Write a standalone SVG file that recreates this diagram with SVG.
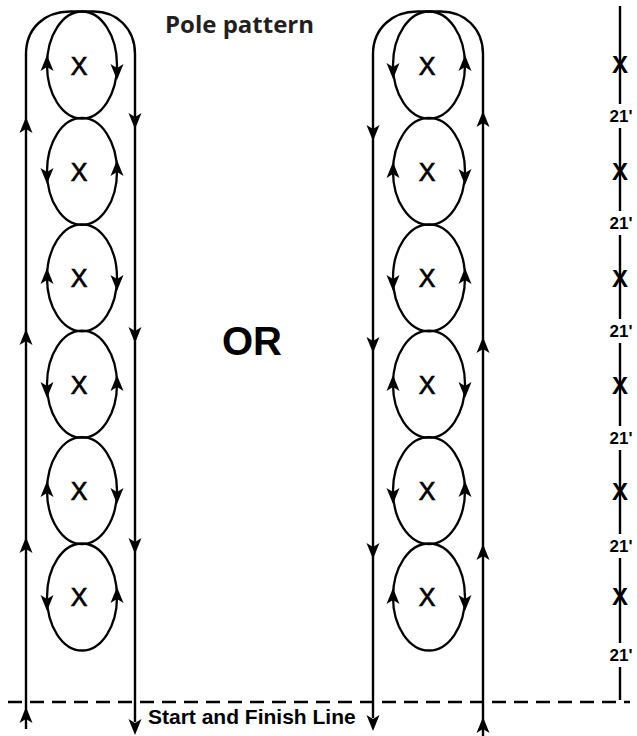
<svg xmlns="http://www.w3.org/2000/svg" xmlns:xlink="http://www.w3.org/1999/xlink" width="637" height="736" viewBox="0 0 637 736">
<style>
.ln{fill:none;stroke:#000;stroke-width:2.4}
.el{fill:none;stroke:#000;stroke-width:2.3}
.px{font-family:"Liberation Sans",Arial,sans-serif;font-size:25px;fill:#000;stroke:#000;stroke-width:0.7;text-anchor:middle}
.sx{font-family:"Liberation Sans",Arial,sans-serif;font-size:24px;font-weight:bold;fill:#000;text-anchor:middle}
.dl{font-family:"Liberation Sans",Arial,sans-serif;font-size:17px;font-weight:bold;fill:#000;text-anchor:middle}
.dash{fill:none;stroke:#000;stroke-width:2.5;stroke-dasharray:14 8}
</style>
<defs>
<path id="up" d="M0,0 L6.5,16 L0,12 L-6.5,16 Z" fill="#000"/>
<path id="dn" d="M0,0 L6.5,-16 L0,-12 L-6.5,-16 Z" fill="#000"/>
</defs>

<text x="165" y="33" font-family="'Open Sans',sans-serif" font-size="24" font-weight="bold" fill="#231f20">Pole pattern</text>
<text x="222" y="355" font-family="'Liberation Sans',Arial,sans-serif" font-size="40" font-weight="bold" fill="#000">OR</text>

<g id="poles-left">
<g id="pole-L1"><ellipse class="el" cx="82" cy="65" rx="35" ry="53.5"/><text class="px" x="79" y="75">X</text></g>
<g id="pole-L2"><ellipse class="el" cx="82" cy="171.4" rx="35" ry="53.5"/><text class="px" x="79" y="181">X</text></g>
<g id="pole-L3"><ellipse class="el" cx="82" cy="277.8" rx="35" ry="53.5"/><text class="px" x="79" y="287">X</text></g>
<g id="pole-L4"><ellipse class="el" cx="82" cy="384.2" rx="35" ry="53.5"/><text class="px" x="79" y="394">X</text></g>
<g id="pole-L5"><ellipse class="el" cx="82" cy="490.6" rx="35" ry="53.5"/><text class="px" x="79" y="500">X</text></g>
<g id="pole-L6"><ellipse class="el" cx="82" cy="597" rx="35" ry="53.5"/><text class="px" x="79" y="606">X</text></g>
</g>

<g id="poles-right">
<g id="pole-R1"><ellipse class="el" cx="429" cy="65" rx="36" ry="53.5"/><text class="px" x="427" y="75">X</text></g>
<g id="pole-R2"><ellipse class="el" cx="429" cy="171.4" rx="36" ry="53.5"/><text class="px" x="427" y="181">X</text></g>
<g id="pole-R3"><ellipse class="el" cx="429" cy="277.8" rx="36" ry="53.5"/><text class="px" x="427" y="287">X</text></g>
<g id="pole-R4"><ellipse class="el" cx="429" cy="384.2" rx="36" ry="53.5"/><text class="px" x="427" y="394">X</text></g>
<g id="pole-R5"><ellipse class="el" cx="429" cy="490.6" rx="36" ry="53.5"/><text class="px" x="427" y="500">X</text></g>
<g id="pole-R6"><ellipse class="el" cx="429" cy="597" rx="36" ry="53.5"/><text class="px" x="427" y="606">X</text></g>
</g>

<g id="connectors">
<path class="ln" d="M26,729 V54 C26,28 45,11.5 70,11.5 H82"/>
<path class="ln" d="M135,722 V54 C135,28 116,11.5 94,11.5 H82"/>
<path class="ln" d="M373,718 V54 C373,28 393,11.5 417,11.5 H429"/>
<path class="ln" d="M483,736 V54 C483,28 464,11.5 441,11.5 H429"/>
<!-- left pattern outer arrows -->
<use xlink:href="#up" x="26" y="117"/><use xlink:href="#up" x="26" y="329"/><use xlink:href="#up" x="26" y="537"/><use xlink:href="#up" x="26" y="707"/>
<use xlink:href="#dn" x="135" y="129"/><use xlink:href="#dn" x="135" y="343"/><use xlink:href="#dn" x="135" y="554"/><use xlink:href="#dn" x="135" y="735"/>
<!-- right pattern outer arrows -->
<use xlink:href="#dn" x="373" y="141"/><use xlink:href="#dn" x="373" y="353"/><use xlink:href="#dn" x="373" y="559"/><use xlink:href="#dn" x="373" y="731"/>
<use xlink:href="#up" x="483" y="111"/><use xlink:href="#up" x="483" y="337"/><use xlink:href="#up" x="483" y="544"/><use xlink:href="#up" x="483" y="717"/>
<!-- left ellipse arrows -->
<use xlink:href="#up" x="47" y="55"/><use xlink:href="#dn" x="117" y="80"/>
<use xlink:href="#dn" x="47" y="184"/><use xlink:href="#up" x="117" y="160"/>
<use xlink:href="#up" x="47" y="268"/><use xlink:href="#dn" x="117" y="291"/>
<use xlink:href="#dn" x="47" y="398"/><use xlink:href="#up" x="117" y="375"/>
<use xlink:href="#up" x="47" y="481"/><use xlink:href="#dn" x="117" y="504"/>
<use xlink:href="#dn" x="47" y="611"/><use xlink:href="#up" x="117" y="587"/>
<!-- right ellipse arrows -->
<use xlink:href="#dn" x="393" y="79"/><use xlink:href="#up" x="465" y="55"/>
<use xlink:href="#up" x="393" y="162"/><use xlink:href="#dn" x="465" y="185"/>
<use xlink:href="#dn" x="393" y="291"/><use xlink:href="#up" x="465" y="268"/>
<use xlink:href="#up" x="393" y="375"/><use xlink:href="#dn" x="465" y="398"/>
<use xlink:href="#dn" x="393" y="504"/><use xlink:href="#up" x="465" y="481"/>
<use xlink:href="#up" x="393" y="588"/><use xlink:href="#dn" x="465" y="611"/>
</g>

<g id="start-finish">
<line class="dash" x1="8" y1="702" x2="630" y2="702"/>
<text x="148" y="724" font-family="'Liberation Sans',Arial,sans-serif" font-size="21" font-weight="bold" fill="#000">Start and Finish Line</text>
</g>

<g id="scale">
<path class="ln" d="M620,6 V104 M620,128 V211 M620,235 V319 M620,343 V426 M620,450 V534 M620,558 V643 M620,667 V700"/>
<text class="sx" x="620" y="73">X</text>
<text class="sx" x="620" y="180">X</text>
<text class="sx" x="620" y="287">X</text>
<text class="sx" x="620" y="394">X</text>
<text class="sx" x="620" y="500">X</text>
<text class="sx" x="620" y="605">X</text>
<text class="dl" x="621" y="122">21'</text>
<text class="dl" x="621" y="229">21'</text>
<text class="dl" x="621" y="337">21'</text>
<text class="dl" x="621" y="444">21'</text>
<text class="dl" x="621" y="552">21'</text>
<text class="dl" x="621" y="661">21'</text>
</g>
</svg>
